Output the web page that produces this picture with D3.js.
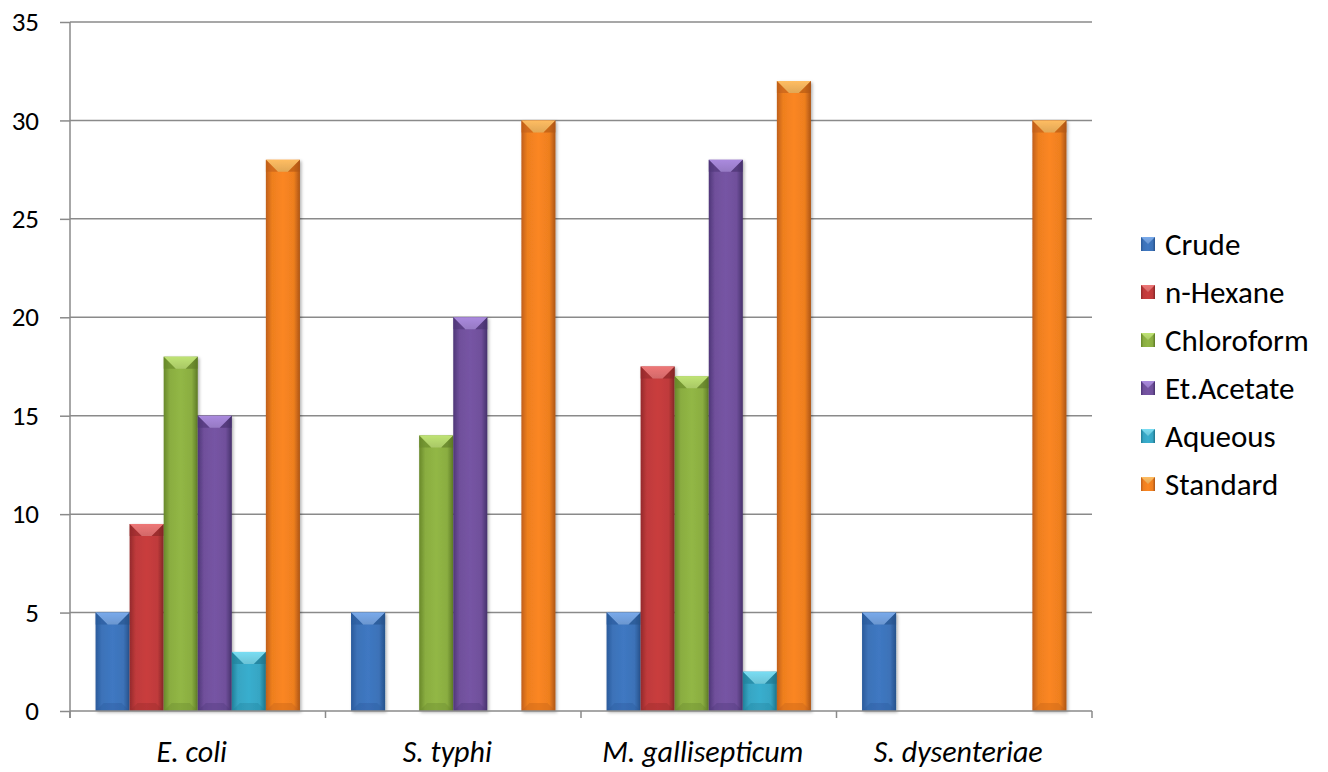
<!DOCTYPE html>
<html>
<head>
<meta charset="utf-8">
<script src="https://cdn.jsdelivr.net/npm/d3@7"></script>
<style>
  html, body { margin: 0; padding: 0; background: #fff; }
  svg { display: block; }
  text { font-family: Carlito, Lato, "Open Sans", sans-serif; fill: #000; }
</style>
</head>
<body>
<svg id="chart" width="1328" height="772"></svg>
<script>
// Organisms tested
const categories = ["E. coli", "S. typhi", "M. gallisepticum", "S. dysenteriae"];
// Extract types
const seriesNames = ["Crude", "n-Hexane", "Chloroform", "Et.Acetate", "Aqueous", "Standard"];
// Zone of inhibition per extract, one value per organism
const crude      = [5, 5, 5, 5];
const nHexane    = [9.5, 0, 17.5, 0];
const chloroform = [18, 14, 17, 0];
const etAcetate  = [15, 20, 28, 0];
const aqueous    = [3, 0, 2, 0];
const standard   = [28, 30, 32, 30];
const yTicks = [0, 5, 10, 15, 20, 25, 30, 35];

const seriesValues = [crude, nHexane, chloroform, etAcetate, aqueous, standard];

// Fill palettes: [edge, mid, bevel highlight]
const palette = [
  ["#2a5a9b", "#3c72b8", "#79aaeb"],
  ["#942a2b", "#bf3a3b", "#ee7777"],
  ["#68882a", "#8aad41", "#bfe374"],
  ["#4e3678", "#70509b", "#aa8ade"],
  ["#21809a", "#36a5c3", "#79ddf3"],
  ["#c05f19", "#ee7f1f", "#ffbd62"]
];

const svg = d3.select("#chart");
const plotLeft = 70, plotRight = 1092, plotTop = 22, plotBottom = 711;
const fontStack = "Carlito, Lato, 'Open Sans', sans-serif";

const x0 = d3.scaleBand().domain(categories).range([plotLeft, plotRight]).paddingInner(0).paddingOuter(0);
const bandW = x0.bandwidth();
const barW = bandW / 7.5;
const x1 = d3.scaleBand().domain(seriesNames)
  .range([barW * 0.75, bandW - barW * 0.75]).padding(0);
const y = d3.scaleLinear().domain([0, 35]).range([plotBottom, plotTop]);

const defs = svg.append("defs");
palette.forEach((p, i) => {
  const g = defs.append("linearGradient").attr("id", "body" + i)
    .attr("x1", "0%").attr("x2", "100%").attr("y1", "0%").attr("y2", "0%");
  g.append("stop").attr("offset", "0%").attr("stop-color", p[0]);
  g.append("stop").attr("offset", "18%").attr("stop-color", p[1]);
  g.append("stop").attr("offset", "50%").attr("stop-color", d3.color(p[1]).brighter(0.15));
  g.append("stop").attr("offset", "82%").attr("stop-color", p[1]);
  g.append("stop").attr("offset", "100%").attr("stop-color", d3.color(p[0]).darker(0.3));
  const t = defs.append("linearGradient").attr("id", "bevel" + i)
    .attr("x1", "0%").attr("x2", "0%").attr("y1", "0%").attr("y2", "100%");
  t.append("stop").attr("offset", "0%").attr("stop-color", p[2]);
  t.append("stop").attr("offset", "100%").attr("stop-color", d3.color(p[2]).darker(0.35));
});
const shadow = defs.append("filter").attr("id", "shadow")
  .attr("x", "-20%").attr("y", "-5%").attr("width", "150%").attr("height", "115%");
shadow.append("feDropShadow").attr("dx", 1.5).attr("dy", 1.5)
  .attr("stdDeviation", 1.5).attr("flood-color", "#000").attr("flood-opacity", 0.3);

// Horizontal gridlines
svg.append("g").selectAll("line").data(yTicks.filter(d => d > 0)).join("line")
  .attr("x1", plotLeft).attr("x2", plotRight)
  .attr("y1", d => y(d)).attr("y2", d => y(d))
  .attr("stroke", "#8a8a8a").attr("stroke-width", 1.5);

// Y axis with labels
const yAxis = svg.append("g").attr("transform", `translate(${plotLeft},0)`)
  .attr("font-size", 27).attr("font-family", fontStack)
  .call(d3.axisLeft(y).tickValues(yTicks).tickSize(10).tickPadding(21));
yAxis.attr("font-size", 27).attr("font-family", fontStack);
yAxis.select(".domain").remove();
yAxis.selectAll(".tick line").attr("stroke", "#8a8a8a").attr("stroke-width", 1.5);
yAxis.selectAll(".tick text").style("font-size", "27px")
  .style("font-family", fontStack).attr("fill", "#000");
svg.append("line").attr("x1", plotLeft).attr("x2", plotLeft).attr("y1", plotTop).attr("y2", plotBottom + 7)
  .attr("stroke", "#8a8a8a").attr("stroke-width", 1.5);

// Bars
const groups = svg.append("g").selectAll("g").data(categories).join("g")
  .attr("transform", d => `translate(${x0(d)},0)`);

groups.each(function(cat, ci) {
  const g = d3.select(this);
  const data = seriesNames.map((s, si) => ({ s, si, v: seriesValues[si][ci] })).filter(d => d.v > 0);
  const bar = g.selectAll("g.bar").data(data).join("g").attr("class", "bar")
    .attr("filter", "url(#shadow)");
  bar.append("rect")
    .attr("x", d => x1(d.s)).attr("width", x1.bandwidth())
    .attr("y", d => y(d.v)).attr("height", d => y(0) - y(d.v))
    .attr("fill", d => `url(#body${d.si})`);
  const depth = d => Math.min(12, (y(0) - y(d.v)) / 3);
  // top bevel
  bar.append("path")
    .attr("d", d => {
      const xa = x1(d.s), xb = xa + x1.bandwidth(), ya = y(d.v), dd = depth(d);
      return `M${xa},${ya}L${xb},${ya}L${xb - dd},${ya + dd}L${xa + dd},${ya + dd}Z`;
    })
    .attr("fill", d => `url(#bevel${d.si})`);
  // side bevel shading
  bar.append("path")
    .attr("d", d => {
      const xa = x1(d.s), ya = y(d.v), dd = depth(d);
      return `M${xa},${ya}L${xa + dd},${ya + dd}L${xa},${ya + dd}Z`;
    })
    .attr("fill", d => palette[d.si][0]).attr("opacity", 0.6);
  bar.append("path")
    .attr("d", d => {
      const xb = x1(d.s) + x1.bandwidth(), ya = y(d.v), dd = depth(d);
      return `M${xb},${ya}L${xb - dd},${ya + dd}L${xb},${ya + dd}Z`;
    })
    .attr("fill", d => d3.color(palette[d.si][0]).darker(0.3)).attr("opacity", 0.6);
  // faint bottom bevel
  bar.append("path")
    .attr("d", d => {
      const xa = x1(d.s), xb = xa + x1.bandwidth(), yb = y(0);
      const dd = 8;
      return `M${xa},${yb}L${xa + dd},${yb - dd}L${xb - dd},${yb - dd}L${xb},${yb}Z`;
    })
    .attr("fill", d => palette[d.si][0]).attr("opacity", 0.35);
});

// X axis line and category boundary ticks
svg.append("line").attr("x1", plotLeft).attr("x2", plotRight).attr("y1", plotBottom).attr("y2", plotBottom)
  .attr("stroke", "#8a8a8a").attr("stroke-width", 1.5);
const boundaries = categories.map(c => x0(c)).concat([x0(categories[categories.length - 1]) + bandW]);
svg.append("g").selectAll("line").data(boundaries).join("line")
  .attr("x1", d => d).attr("x2", d => d).attr("y1", plotBottom).attr("y2", plotBottom + 7)
  .attr("stroke", "#8a8a8a").attr("stroke-width", 1.5);

const xAxis = svg.append("g").attr("transform", `translate(0,${plotBottom})`)
  .call(d3.axisBottom(x0).tickSize(0).tickPadding(30));
xAxis.select(".domain").remove();
xAxis.selectAll(".tick text").attr("font-size", 30).attr("font-style", "italic")
  .attr("dx", -6)
  .attr("font-family", fontStack).attr("fill", "#000");

// Legend
const legend = svg.append("g").selectAll("g").data(seriesNames).join("g")
  .attr("transform", (d, i) => `translate(1141,${244 + i * 48})`);
legend.append("rect").attr("x", 0).attr("y", -7).attr("width", 14).attr("height", 14)
  .attr("fill", (d, i) => `url(#body${i})`);
legend.append("path").attr("d", "M0,-7L14,-7L7,0Z")
  .attr("fill", (d, i) => `url(#bevel${i})`);
legend.append("text").attr("x", 24).attr("y", 0).attr("dy", "0.35em")
  .attr("font-size", 31).attr("font-family", fontStack).text(d => d);
</script>
</body>
</html>
